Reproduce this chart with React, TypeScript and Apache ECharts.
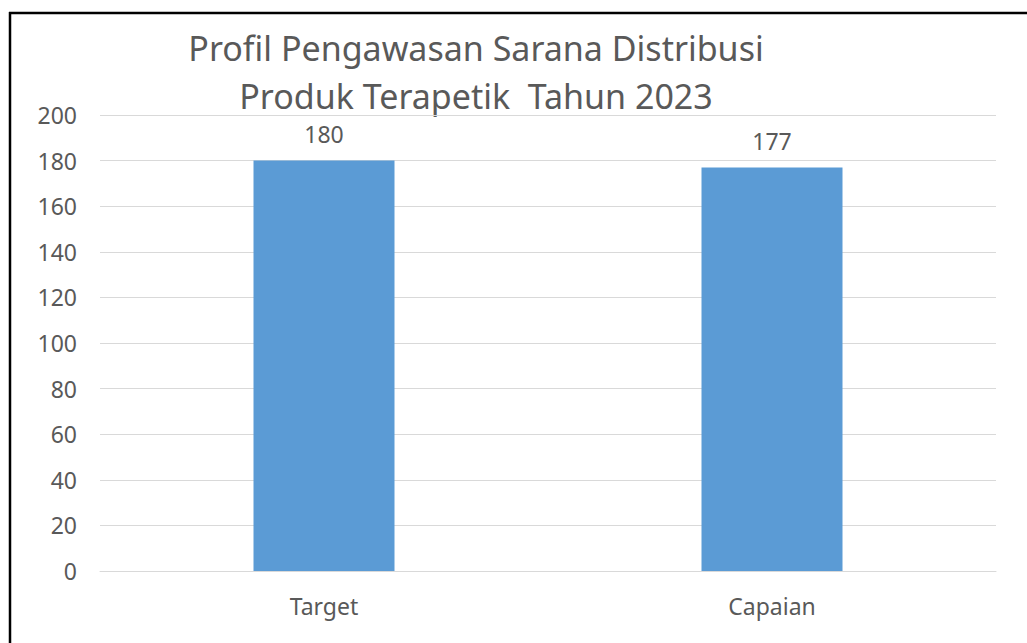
import React, { useEffect, useRef } from "react";
import * as echarts from "echarts";

const categories = ["Target", "Capaian"];
const values = [180, 177];
const titleLines = ["Profil Pengawasan Sarana Distribusi", "Produk Terapetik  Tahun 2023"];
const yMin = 0;
const yMax = 200;
const yStep = 20;

const FONT = "'Noto Sans', sans-serif";
const TEXT = "#595959";

export default function App() {
  const ref = useRef<HTMLDivElement>(null);
  useEffect(() => {
    const chart = echarts.init(ref.current!, null, { renderer: "svg" });
    chart.setOption({
      animation: false,
      backgroundColor: "#ffffff",
      graphic: [
        { type: "line", shape: { x1: 9, y1: 13, x2: 1027, y2: 13 }, style: { stroke: "#000", lineWidth: 2.5 } },
        { type: "line", shape: { x1: 10, y1: 12, x2: 10, y2: 643 }, style: { stroke: "#000", lineWidth: 2.5 } },
        {
          type: "text",
          x: 476,
          y: 24,
          style: {
            text: titleLines.join("\n"),
            fill: TEXT,
            fontSize: 34,
            fontFamily: FONT,
            align: "center",
            lineHeight: 48,
          },
        },
      ],
      grid: { left: 100, right: 31, top: 115, bottom: 72 },
      xAxis: {
        type: "category",
        data: categories,
        axisLine: { lineStyle: { color: "#d9d9d9" } },
        axisTick: { show: false },
        axisLabel: { color: TEXT, fontSize: 23, fontFamily: FONT, margin: 23 },
      },
      yAxis: {
        type: "value",
        min: yMin,
        max: yMax,
        interval: yStep,
        axisLine: { show: false },
        axisTick: { show: false },
        splitLine: { lineStyle: { color: "#d9d9d9", width: 1 } },
        axisLabel: { color: TEXT, fontSize: 23, fontFamily: FONT, margin: 23 },
      },
      series: [
        {
          type: "bar",
          data: values,
          barWidth: 141,
          itemStyle: { color: "#5b9bd5" },
          label: { show: true, position: "top", distance: 15, color: TEXT, fontSize: 23, fontFamily: FONT },
        },
      ],
    });
    return () => chart.dispose();
  }, []);
  return <div ref={ref} style={{ position: "absolute", left: 0, top: 0, width: 1027, height: 643 }} />;
}
